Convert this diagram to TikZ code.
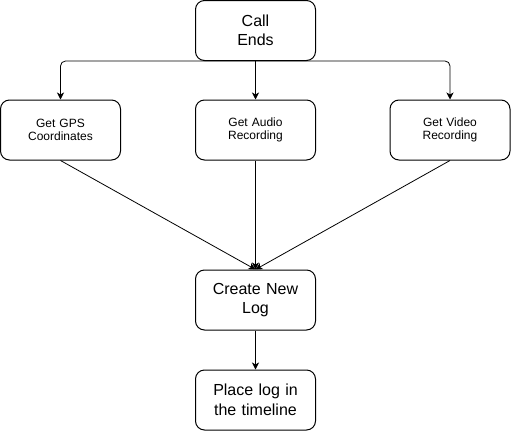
\documentclass[tikz,border=0pt]{standalone}
\usepackage{fontspec}
\setmainfont{Liberation Sans}
\usetikzlibrary{arrows.meta}
\begin{document}
\begin{tikzpicture}[x=1pt,y=-1pt,
  box/.style={draw, line width=1pt, rounded corners=9pt, minimum width=120pt, minimum height=60pt, inner sep=0pt, align=center, text width=110pt},
  big/.style={box, font=\fontsize{16}{19.5}\selectfont},
  small/.style={box, font=\fontsize{12}{13.5}\selectfont},
  arr/.style={line width=0.8pt, -{Stealth[length=7pt,width=7pt,inset=2pt]}}]
\useasboundingbox (0,0) rectangle (511,431);
\node[big] (call) at (255.5,30.5) {Call\\Ends};
\node[small] (gps) at (60.5,130) {Get GPS\\Coordinates};
\node[small] (audio) at (255.5,130) {Get Audio\\Recording};
\node[small] (video) at (450,130) {Get Video\\Recording};
\node[big] (log) at (255.5,300) {Create New\\Log};
\node[big] (place) at (255.5,400) {Place log in\\the timeline};
\draw[arr, rounded corners=5pt] (call.south) -| (gps.north);
\draw[arr, rounded corners=5pt] (call.south) -| (video.north);
\draw[arr] (call) -- (audio);
\draw[arr] (gps.south) -- (log.north);
\draw[arr] (audio) -- (log);
\draw[arr] (video.south) -- (log.north);
\draw[arr] (log) -- (place);
\end{tikzpicture}
\end{document}
